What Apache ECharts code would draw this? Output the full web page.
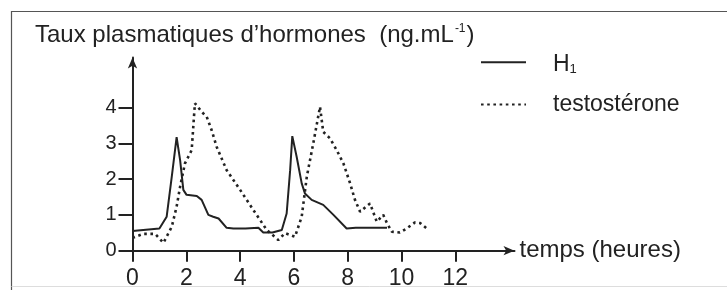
<!DOCTYPE html>
<html>
<head>
<meta charset="utf-8">
<script src="https://cdn.jsdelivr.net/npm/echarts@6/dist/echarts.min.js"></script>
<style>
html,body{margin:0;padding:0;background:#fff;}
#chart{width:727px;height:291px;}
</style>
</head>
<body>
<div id="chart"></div>
<script>
// Data
var h1Times = [0, 0.4, 1.0, 1.27, 1.46, 1.64, 1.77, 1.89, 2.01, 2.39, 2.57, 2.82, 3.0, 3.2, 3.5, 3.75, 4.2, 4.68, 4.86, 5.2, 5.55, 5.73, 5.86, 5.94, 6.1, 6.29, 6.41, 6.66, 7.09, 7.47, 7.96, 8.3, 9.46];
var h1Values = [0.55, 0.58, 0.62, 0.95, 2.07, 3.17, 2.53, 1.70, 1.56, 1.53, 1.42, 1.0, 0.95, 0.9, 0.64, 0.62, 0.62, 0.64, 0.51, 0.51, 0.58, 1.04, 2.25, 3.2, 2.63, 1.88, 1.6, 1.42, 1.28, 1.0, 0.62, 0.64, 0.64];

var testoTimes = [0, 0.4, 0.84, 1.15, 1.46, 1.64, 1.77, 1.95, 2.2, 2.32, 2.45, 2.57, 2.76, 2.94, 3.13, 3.5, 4.0, 4.49, 4.99, 5.42, 5.67, 6.04, 6.29, 6.48, 6.72, 6.97, 7.09, 7.34, 7.59, 7.84, 8.09, 8.27, 8.46, 8.83, 9.08, 9.32, 9.46, 9.64, 9.94, 10.19, 10.5, 10.7, 10.94];
var testoValues = [0.36, 0.47, 0.47, 0.22, 0.67, 1.23, 1.79, 2.44, 2.81, 4.12, 4.0, 3.88, 3.74, 3.37, 2.9, 2.25, 1.7, 1.14, 0.58, 0.3, 0.49, 0.39, 0.95, 2.07, 3.0, 4.02, 3.32, 3.14, 2.81, 2.44, 1.88, 1.42, 1.09, 1.32, 0.81, 1.0, 0.77, 0.53, 0.51, 0.62, 0.79, 0.77, 0.62];

var xTickLabels = [0, 2, 4, 6, 8, 10, 12];
var yTickLabels = [0, 1, 2, 3, 4];

var seriesNames = ['H1', 'testostérone'];
var titleText = 'Taux plasmatiques d\u2019hormones  (ng.mL';
var xAxisName = 'temps (heures)';

function pairs(ts, vs) {
  var out = [];
  for (var i = 0; i < ts.length; i++) out.push([ts[i], vs[i]]);
  return out;
}

var ink = '#222';
var fontFam = '"Liberation Sans", Arial, sans-serif';

var chart = echarts.init(document.getElementById('chart'), null, {renderer: 'canvas'});
chart.setOption({
  backgroundColor: '#fff',
  animation: false,
  textStyle: {fontFamily: fontFam, color: ink},
  grid: {left: 132.5, top: 57.4, width: 382, height: 193.3, containLabel: false},
  xAxis: {
    type: 'value', min: 0, max: 14.2, interval: 2,
    axisLine: {show: true, symbol: ['none', 'arrow'], symbolSize: [7, 11], lineStyle: {color: ink, width: 2}},
    axisTick: {show: true, customValues: xTickLabels, length: 11, lineStyle: {color: ink, width: 2}},
    axisLabel: {customValues: xTickLabels, fontSize: 23, color: ink, margin: 16, fontFamily: fontFam},
    splitLine: {show: false},
    name: xAxisName, nameLocation: 'end', nameGap: 5,
    nameTextStyle: {fontSize: 24, color: ink, fontFamily: fontFam, align: 'left', verticalAlign: 'middle', padding: [0, 0, 2, 0]}
  },
  yAxis: {
    type: 'value', min: 0, max: 5.4, interval: 1,
    axisLine: {show: true, symbol: ['none', 'arrow'], symbolSize: [7, 11], lineStyle: {color: ink, width: 2}},
    axisTick: {show: true, customValues: yTickLabels, length: 14, lineStyle: {color: ink, width: 2}},
    axisLabel: {customValues: yTickLabels, fontSize: 20, color: ink, margin: 16, fontFamily: fontFam},
    splitLine: {show: false}
  },
  legend: [
    {
      data: [seriesNames[0]], orient: 'vertical', left: 475, top: 47.7,
      itemWidth: 45, itemHeight: 20,
      itemStyle: {opacity: 0},
      textStyle: {fontSize: 23, color: ink, padding: [4, 0, 0, 22], fontFamily: fontFam,
        rich: {sub: {fontSize: 13, verticalAlign: 'bottom', color: ink}, b: {fontSize: 23, color: ink}}},
      formatter: function (n) { return '{b|H}{sub|1}'; }
    },
    {
      data: [seriesNames[1]], orient: 'vertical', left: 475, top: 88,
      itemWidth: 45, itemHeight: 20,
      itemStyle: {opacity: 0},
      textStyle: {fontSize: 23, color: ink, padding: [0, 0, 13, 22], fontFamily: fontFam}
    }
  ],
  series: [
    {
      name: seriesNames[0], type: 'line', data: pairs(h1Times, h1Values),
      showSymbol: false, symbol: 'none', smooth: false,
      lineStyle: {color: ink, width: 2}, itemStyle: {color: ink}
    },
    {
      name: seriesNames[1], type: 'line', data: pairs(testoTimes, testoValues),
      showSymbol: false, symbol: 'none', smooth: false,
      lineStyle: {color: ink, width: 2.6, type: [2.6, 3.6]}, itemStyle: {color: ink}
    }
  ],
  graphic: [
    {type: 'polyline', shape: {points: [[11.5, 290], [11.5, 11.5], [727, 11.5]]}, style: {fill: 'none', stroke: '#555', lineWidth: 1.2}, silent: true, z: -1},
    {type: 'line', shape: {x1: 11.5, y1: 286.5, x2: 727, y2: 286.5}, style: {stroke: '#ddd', lineWidth: 1}, silent: true, z: -1},
    {type: 'text', left: 35, top: 23, style: {
      text: '{m|' + titleText + '}{s|-1}{m|)}',
      rich: {m: {fontSize: 24, fill: ink, fontFamily: fontFam}, s: {fontSize: 12, fill: ink, fontFamily: fontFam, verticalAlign: 'top', padding: [0, 1, 12, 1]}},
      fill: ink
    }}
  ]
});
</script>
</body>
</html>
